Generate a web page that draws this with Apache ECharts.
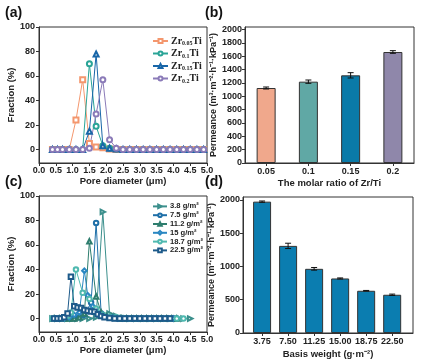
<!DOCTYPE html>
<html><head><meta charset="utf-8">
<script src="https://cdn.jsdelivr.net/npm/echarts@6/dist/echarts.min.js"></script>
<style>html,body{margin:0;padding:0;background:#fff}#c{width:428px;height:360px}</style>
</head><body><div id="c"></div>
<script>
// ---- Panel (a) data ----
const xa = [0.4,0.55,0.7,0.9,1.1,1.3,1.5,1.7,1.9,2.1,2.3,2.5,2.7,2.9,3.1,3.3,3.5,3.7,3.9,4.1,4.3,4.5,4.7,4.9];
const zr005 = [0,0,0,0,24,57,5,2,1.5,0.5,0,0,0,0,0,0,0,0,0,0,0,0,0,0];
const zr01  = [0,0,0,0,0,0,70,19,3,1,0.5,0,0,0,0,0,0,0,0,0,0,0,0,0];
const zr015 = [0,0,0,0,0,0,15,78,3,1,0.5,0,0,0,0,0,0,0,0,0,0,0,0,0];
const zr02  = [0,0,0,0,0,0,1,29,57,8,1,0,0,0,0,0,0,0,0,0,0,0,0,0];
const namesA = ['Zr0.05Ti','Zr0.1Ti','Zr0.15Ti','Zr0.2Ti'];

// ---- Panel (b) data ----
const ratioCats = ['0.05','0.1','0.15','0.2'];
const permB = [1125,1220,1315,1665];
const errB = [15,25,40,20];

// ---- Panel (c) data ----
const x38 = [0.4,0.55,0.7,0.85,1.0,1.15,1.3,1.5,1.7,1.9,2.1,2.3,2.5,2.7,2.9,3.1,3.3,3.5,3.7,3.9,4.1,4.3,4.5];
const y38 = [0,0,0,0,0,0,0,0,1,87,4,2,0.5,0,0,0,0,0,0,0,0,0,0];
const x75 = [0.45,0.6,0.75,0.9,1.05,1.2,1.35,1.55,1.7,1.85,2.0,2.15,2.3,2.45,2.6,2.75,2.9,3.05,3.2,3.35,3.5,3.65,3.8,3.95,4.1];
const y75 = [0,0,0,0,0,1,3,13,78,4,1.5,1,0.5,0,0,0,0,0,0,0,0,0,0,0,0];
const x112 = [0.45,0.6,0.75,0.9,1.05,1.2,1.35,1.5,1.7,1.85,2.0,2.15,2.3,2.45,2.6,2.75,2.9,3.05,3.2,3.35,3.5,3.65,3.8,3.95,4.1];
const y112 = [0,0,0,0,0,1,4,63,18,5,2,1,0.5,0,0,0,0,0,0,0,0,0,0,0,0];
const x15 = [0.45,0.6,0.75,0.9,1.05,1.2,1.35,1.45,1.6,1.75,1.9,2.05,2.2,2.35,2.5,2.65,2.8,2.95,3.1,3.25,3.4,3.55,3.7,3.85,4.0];
const y15 = [0,0,0,1,3,5,39,19,10,5,3,1,0.5,0,0,0,0,0,0,0,0,0,0,0,0];
const x187 = [0.4,0.55,0.7,0.85,0.95,1.1,1.3,1.5,1.7,1.9,2.1,2.3,2.5,2.7,2.9,3.1,3.3,3.5,3.7,3.9,4.1,4.3];
const y187 = [0,0,0,2,5,40,21,16,8,3,1.5,1,0.5,0,0,0,0,0,0,0,0,0];
const x225 = [0.45,0.55,0.65,0.75,0.85,0.95,1.05,1.15,1.25,1.35,1.45,1.55,1.65,1.75,1.85,1.95,2.1,2.25,2.4,2.55,2.7,2.85,3.0,3.15,3.3,3.45,3.6,3.75,3.9];
const y225 = [0,0,0,1,4,34,10,9,8.5,7,6.3,5.7,5.5,3.5,2,1,0.5,0,0,0,0,0,0,0,0,0,0,0,0];
const namesC = ['3.8 g/m²','7.5 g/m²','11.2 g/m²','15 g/m²','18.7 g/m²','22.5 g/m²'];

// ---- Panel (d) data ----
const basisW = [3.75,7.5,11.25,15.0,18.75,22.5];
const permD = [1975,1310,965,820,635,575];
const errD = [10,40,20,8,5,10];

// ---- tick labels ----
const fracTicks = [0,20,40,60,80,100];
const poreTicks = [0,0.5,1,1.5,2,2.5,3,3.5,4,4.5,5];
const permTicksB = [0,200,400,600,800,1000,1200,1400,1600,1800,2000];
const permTicksD = [0,500,1000,1500,2000];

const F = 'Liberation Sans';
const axisColor = '#333';
const lblStyle = {fontFamily:F, fontWeight:'bold', fontSize:9, color:'#222'};
const nameStyle = {fontFamily:F, fontWeight:'bold', fontSize:9.5, color:'#222'};

const pair = (xs, ys) => xs.map((x,i)=>[x, ys[i]]);

function fracY(idx){
  return {type:'value', gridIndex:idx, min:-11, max:100,
    name:'Fraction (%)', nameLocation:'middle', nameGap:14, nameTextStyle:nameStyle,
    axisLine:{show:true, lineStyle:{color:axisColor, width:1}},
    axisTick:{show:true, length:3, customValues:fracTicks, lineStyle:{color:axisColor}},
    axisLabel:Object.assign({margin:4, customValues:fracTicks}, lblStyle),
    splitLine:{show:false}};
}
function poreX(idx){
  return {type:'value', gridIndex:idx, min:0, max:5,
    name:'Pore diameter (μm)', nameLocation:'middle', nameGap:12, nameTextStyle:nameStyle,
    axisLine:{show:true, onZero:false, lineStyle:{color:axisColor, width:1}},
    axisTick:{show:true, length:3, customValues:poreTicks, lineStyle:{color:axisColor}},
    axisLabel:Object.assign({margin:3, customValues:poreTicks, formatter:v=>v.toFixed(1)}, lblStyle),
    splitLine:{show:false}};
}

const colA = ['#f4976e','#2aa497','#1866a8','#8b7bb8'];
const symA = ['emptyRect','emptyCircle','emptyTriangle','emptyCircle'];
const dataA = [zr005, zr01, zr015, zr02];

const colC = ['#3b8f8c','#1e6fa8','#2e7d6e','#2a87c2','#4fb9b0','#1d5a8a'];
const symC = ['emptyTriangle','emptyCircle','emptyTriangle','emptyDiamond','emptyCircle','emptyRect'];
const rotC = [-90,0,0,0,0,0];
const dataC = [pair(x38,y38), pair(x75,y75), pair(x112,y112), pair(x15,y15), pair(x187,y187), pair(x225,y225)];

const series = [];
namesA.forEach((n,i)=>{
  series.push({type:'line', name:n, xAxisIndex:0, yAxisIndex:0, data:pair(xa, dataA[i]),
    symbol:symA[i], symbolSize:5, lineStyle:{width:1, color:colA[i]}, itemStyle:{color:colA[i], borderWidth:1},
    animation:false});
});
namesC.forEach((n,i)=>{
  series.push({type:'line', name:n, xAxisIndex:2, yAxisIndex:2, data:dataC[i],
    symbol:symC[i], symbolRotate:rotC[i], symbolSize:4.5, lineStyle:{width:1, color:colC[i]}, itemStyle:{color:colC[i], borderWidth:1},
    animation:false});
});

const colB = ['#f0a88c','#60a8a5','#0a7aa8','#8f87aa'];
series.push({type:'bar', xAxisIndex:1, yAxisIndex:1, barWidth:19,
  data: permB.map((v,i)=>({value:v, itemStyle:{color:colB[i], borderColor:'#333', borderWidth:1}})),
  animation:false});
function errRender(params, api){
  const x = api.value(0), lo = api.value(1), hi = api.value(2);
  const p1 = api.coord([x, lo]), p2 = api.coord([x, hi]);
  const w = 3;
  const st = {stroke:'#111', lineWidth:1};
  return {type:'group', children:[
    {type:'line', shape:{x1:p1[0], y1:p1[1], x2:p2[0], y2:p2[1]}, style:st},
    {type:'line', shape:{x1:p1[0]-w, y1:p1[1], x2:p1[0]+w, y2:p1[1]}, style:st},
    {type:'line', shape:{x1:p2[0]-w, y1:p2[1], x2:p2[0]+w, y2:p2[1]}, style:st}
  ]};
}
series.push({type:'custom', xAxisIndex:1, yAxisIndex:1, renderItem:errRender, z:10,
  data: permB.map((v,i)=>[i, v-errB[i], v+errB[i]]), animation:false});

series.push({type:'bar', xAxisIndex:3, yAxisIndex:3, barWidth:18,
  data: basisW.map((x,i)=>[x, permD[i]]),
  itemStyle:{color:'#0b7db0', borderColor:'#333', borderWidth:1}, animation:false});
series.push({type:'custom', xAxisIndex:3, yAxisIndex:3, renderItem:errRender, z:10,
  data: basisW.map((x,i)=>[x, permD[i]-errD[i], permD[i]+errD[i]]), animation:false});

const gridBox = {show:true, borderColor:axisColor, borderWidth:1, backgroundColor:'transparent'};

const legendA = {
  data:namesA, orient:'vertical', left:147, top:31, itemWidth:15, itemHeight:5, itemGap:2,
  formatter: n => { const m = n.match(/^Zr([\d.]+)Ti$/); return '{b|Zr}{s|'+m[1]+'}{b|Ti}'; },
  textStyle:{padding:[0,0,0,-2], rich:{
    b:{fontFamily:'Liberation Serif', fontWeight:'bold', fontSize:10, color:'#222', lineHeight:12},
    s:{fontFamily:'Liberation Serif', fontWeight:'bold', fontSize:6, color:'#222', padding:[5,0,0,0]}}}
};
const legendC = {
  data:namesC, orient:'vertical', left:147, top:197, itemWidth:14, itemHeight:4.5, itemGap:0,
  textStyle:{fontFamily:F, fontWeight:'bold', fontSize:7.6, lineHeight:8.8, color:'#222', padding:[0,0,0,-2]}
};

const plain = v => String(v);
const option = {
  animation:false,
  grid:[
    Object.assign({left:39, top:27, width:168, height:136}, gridBox),
    Object.assign({left:245, top:27, width:169, height:136}, gridBox),
    Object.assign({left:39, top:196, width:168, height:136}, gridBox),
    Object.assign({left:243, top:197, width:170, height:136}, gridBox)
  ],
  xAxis:[
    poreX(0),
    {type:'category', gridIndex:1, data:ratioCats,
      name:'The molar ratio of Zr/Ti', nameLocation:'middle', nameGap:15, nameTextStyle:nameStyle,
      axisLine:{lineStyle:{color:axisColor}}, axisTick:{show:true, alignWithLabel:true, length:3, lineStyle:{color:axisColor}},
      axisLabel:Object.assign({margin:4}, lblStyle)},
    poreX(2),
    {type:'value', gridIndex:3, min:1, max:25.5,
      name:'Basis weight (g·m⁻²)', nameLocation:'middle', nameGap:16, nameTextStyle:nameStyle,
      axisLine:{onZero:false, lineStyle:{color:axisColor}},
      axisTick:{show:true, length:3, customValues:basisW, lineStyle:{color:axisColor}},
      axisLabel:Object.assign({margin:4, customValues:basisW, formatter:v=>v.toFixed(2)}, lblStyle),
      splitLine:{show:false}}
  ],
  yAxis:[
    fracY(0),
    {type:'value', gridIndex:1, min:0, max:2040,
      name:'Permeance (m³·m⁻²·h⁻¹·kPa⁻¹)', nameLocation:'middle', nameGap:25, nameTextStyle:Object.assign({}, nameStyle, {fontSize:9}),
      axisLine:{show:true, lineStyle:{color:axisColor}},
      axisTick:{show:true, length:3, customValues:permTicksB, lineStyle:{color:axisColor}},
      axisLabel:Object.assign({margin:3, customValues:permTicksB, formatter:plain}, lblStyle), splitLine:{show:false}},
    fracY(2),
    {type:'value', gridIndex:3, min:0, max:2045,
      name:'Permeance (m³·m⁻²·h⁻¹·kPa⁻¹)', nameLocation:'middle', nameGap:25, nameTextStyle:Object.assign({}, nameStyle, {fontSize:9}),
      axisLine:{show:true, lineStyle:{color:axisColor}},
      axisTick:{show:true, length:3, customValues:permTicksD, lineStyle:{color:axisColor}},
      axisLabel:Object.assign({margin:3, customValues:permTicksD, formatter:plain}, lblStyle), splitLine:{show:false}}
  ],
  legend:[legendA, legendC],
  graphic:[
    {type:'text', left:5, top:6, style:{text:'(a)', font:'bold 14px Liberation Sans', fill:'#111'}},
    {type:'text', left:205, top:6, style:{text:'(b)', font:'bold 14px Liberation Sans', fill:'#111'}},
    {type:'text', left:5, top:175, style:{text:'(c)', font:'bold 14px Liberation Sans', fill:'#111'}},
    {type:'text', left:205, top:175, style:{text:'(d)', font:'bold 14px Liberation Sans', fill:'#111'}}
  ],
  series:series
};
const chart = echarts.init(document.getElementById('c'), null, {renderer:'canvas'});
chart.setOption(option);
</script></body></html>
